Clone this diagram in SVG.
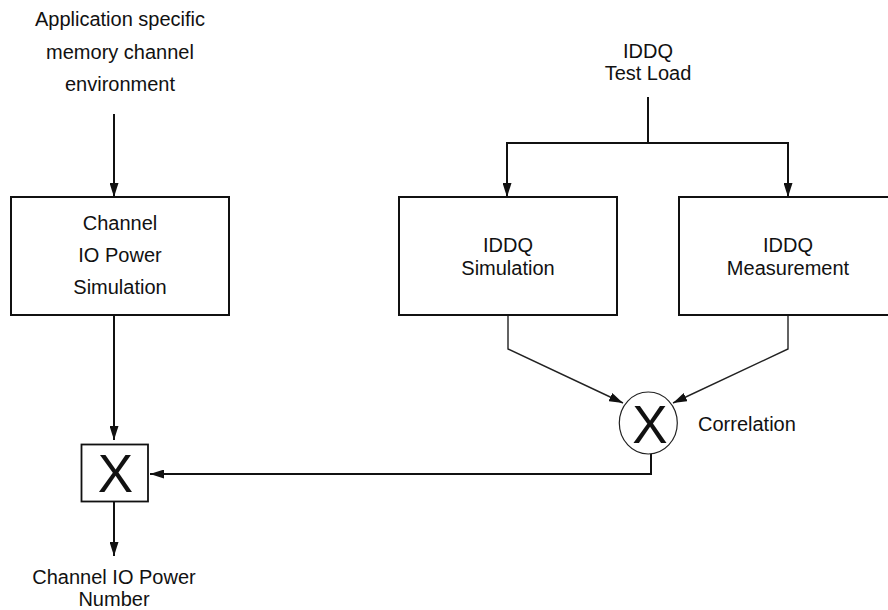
<svg xmlns="http://www.w3.org/2000/svg" width="888" height="610" viewBox="0 0 888 610">
<defs>
<style>
.t{font-family:"Liberation Sans",Arial,sans-serif;font-size:20px;fill:#111;text-anchor:middle}
.bx{fill:#fff;stroke:#111;stroke-width:2}
.ln{fill:none;stroke:#111;stroke-width:2}
.dl{fill:none;stroke:#222;stroke-width:1.4}
.big{font-family:"Liberation Sans",Arial,sans-serif;font-size:53px;fill:#111;text-anchor:middle}
</style>
<marker id="ah" viewBox="0 0 14 9" refX="14" refY="4.5" markerWidth="14" markerHeight="9" markerUnits="userSpaceOnUse" orient="auto">
<path d="M0,0 L14,4.5 L0,9 Z" fill="#111"/>
</marker>
</defs>
<rect width="888" height="610" fill="#fff"/>
<g id="connectors">
<line class="ln" x1="114" y1="114" x2="114" y2="197" marker-end="url(#ah)"/>
<line class="ln" x1="114" y1="315" x2="114" y2="440" marker-end="url(#ah)"/>
<line class="ln" x1="114" y1="501" x2="114" y2="556" marker-end="url(#ah)"/>
<polyline class="ln" points="648,97 648,143 507,143 507,197" marker-end="url(#ah)"/>
<polyline class="ln" points="648,143 788,143 788,197" marker-end="url(#ah)"/>
<polyline class="dl" points="508,315 508,349 623,403" marker-end="url(#ah)"/>
<polyline class="dl" points="788,315 788,349 673,403" marker-end="url(#ah)"/>
<polyline class="ln" points="651,454 651,474 150,474" marker-end="url(#ah)"/>
</g>
<g id="env">
<text class="t" x="120" y="26">Application specific</text>
<text class="t" x="120" y="59">memory channel</text>
<text class="t" x="120" y="91">environment</text>
</g>
<g id="testload">
<text class="t" x="648" y="58">IDDQ</text>
<text class="t" x="648" y="80">Test Load</text>
</g>
<g id="chsim">
<rect class="bx" x="11" y="197" width="218" height="118"/>
<text class="t" x="120" y="230">Channel</text>
<text class="t" x="120" y="262">IO Power</text>
<text class="t" x="120" y="294">Simulation</text>
</g>
<g id="iddqsim">
<rect class="bx" x="399" y="197" width="218" height="118"/>
<text class="t" x="508" y="252">IDDQ</text>
<text class="t" x="508" y="275">Simulation</text>
</g>
<g id="iddqmeas">
<rect class="bx" x="679" y="197" width="230" height="118"/>
<text class="t" x="788" y="252">IDDQ</text>
<text class="t" x="788" y="275">Measurement</text>
</g>
<g id="corr">
<ellipse cx="648.3" cy="423" rx="29" ry="31" fill="#fff" stroke="#222" stroke-width="1.2"/>
<text class="big" x="650" y="442.5">X</text>
<text class="t" x="698" y="431" style="text-anchor:start">Correlation</text>
</g>
<g id="mult">
<rect x="81.5" y="444.5" width="66.5" height="57" fill="#fff" stroke="#111" stroke-width="1.8"/>
<text class="big" x="115.5" y="491.5">X</text>
</g>
<g id="out">
<text class="t" x="114" y="584">Channel IO Power</text>
<text class="t" x="114" y="606">Number</text>
</g>
</svg>
